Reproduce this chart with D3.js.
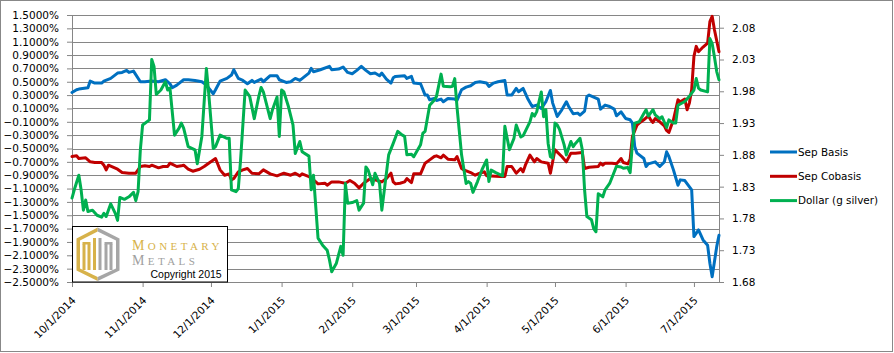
<!DOCTYPE html>
<html>
<head>
<meta charset="utf-8">
<script src="https://cdn.jsdelivr.net/npm/d3@7"></script>
<style>
  body { margin: 0; background: #fff; }
  svg text { font-family: "DejaVu Sans", sans-serif; }
</style>
</head>
<body>
<div id="chart"></div>
<script>
// DATA
const seriesNames = ["Sep Basis", "Sep Cobasis", "Dollar (g silver)"]

const basisDates = ["10/1/14","10/3/14","10/4/14","10/8/14","10/9/14","10/11/14","10/14/14","10/15/14","10/18/14","10/21/14","10/23/14","10/25/14","10/26/14","10/28/14","10/31/14","11/2/14","11/5/14","11/8/14","11/11/14","11/13/14","11/14/14","11/16/14","11/19/14","11/21/14","11/24/14","11/27/14","11/29/14","12/2/14","12/3/14","12/5/14","12/8/14","12/10/14","12/11/14","12/13/14","12/15/14","12/17/14","12/19/14","12/20/14","12/23/14","12/24/14","12/27/14","12/30/14","12/31/14","1/3/15","1/5/15","1/7/15","1/9/15","1/13/15","1/14/15","1/15/15","1/18/15","1/22/15","1/23/15","1/26/15","1/28/15","1/30/15","2/1/15","2/3/15","2/5/15","2/7/15","2/9/15","2/11/15","2/13/15","2/14/15","2/16/15","2/18/15","2/19/15","2/20/15","2/24/15","2/25/15","2/27/15","2/28/15","3/3/15","3/5/15","3/6/15","3/7/15","3/9/15","3/10/15","3/12/15","3/13/15","3/15/15","3/18/15","3/19/15","3/21/15","3/23/15","3/25/15","3/27/15","3/29/15","4/1/15","4/2/15","4/4/15","4/6/15","4/9/15","4/10/15","4/12/15","4/14/15","4/15/15","4/17/15","4/19/15","4/21/15","4/23/15","4/25/15","4/26/15","4/27/15","4/29/15","4/30/15","5/1/15","5/2/15","5/4/15","5/6/15","5/7/15","5/9/15","5/11/15","5/12/15","5/14/15","5/15/15","5/16/15","5/18/15","5/20/15","5/21/15","5/23/15","5/25/15","5/27/15","5/28/15","5/30/15","6/1/15","6/3/15","6/4/15","6/5/15","6/6/15","6/9/15","6/10/15","6/11/15","6/14/15","6/16/15","6/18/15","6/19/15","6/20/15","6/22/15","6/24/15","6/25/15","6/27/15","6/30/15","7/1/15","7/3/15","7/5/15","7/7/15","7/8/15","7/9/15","7/11/15","7/12/15"]
const basisValues = [0.34,0.38,0.39,0.41,0.51,0.48,0.48,0.51,0.55,0.63,0.64,0.67,0.64,0.66,0.50,0.50,0.51,0.50,0.53,0.47,0.41,0.45,0.53,0.53,0.52,0.50,0.45,0.32,0.38,0.51,0.55,0.60,0.68,0.55,0.52,0.47,0.52,0.49,0.54,0.50,0.59,0.59,0.53,0.49,0.50,0.55,0.52,0.63,0.70,0.65,0.68,0.73,0.68,0.69,0.72,0.64,0.62,0.67,0.73,0.67,0.62,0.63,0.59,0.63,0.54,0.48,0.56,0.58,0.59,0.55,0.58,0.48,0.47,0.30,0.30,0.23,0.25,0.22,0.24,0.20,0.25,0.24,0.22,0.38,0.42,0.44,0.49,0.50,0.48,0.43,0.48,0.50,0.52,0.30,0.30,0.40,0.35,0.40,0.25,0.13,0.15,0.10,0.15,0.20,0.37,0.18,0.08,-0.02,0.08,0.20,0.13,0.02,0.03,0.00,0.06,0.28,0.30,0.27,0.24,0.09,0.15,0.13,0.09,-0.01,0.05,-0.05,-0.07,-0.12,-0.47,-0.57,-0.65,-0.77,-0.73,-0.70,-0.77,-0.70,-0.55,-0.62,-0.82,-1.05,-0.97,-0.98,-1.12,-1.82,-1.72,-1.87,-1.95,-2.22,-2.42,-1.97,-1.80]

const cobasisDates = ["10/1/14","10/3/14","10/4/14","10/7/14","10/9/14","10/11/14","10/14/14","10/15/14","10/16/14","10/17/14","10/19/14","10/21/14","10/23/14","10/26/14","10/29/14","10/31/14","11/2/14","11/4/14","11/5/14","11/8/14","11/10/14","11/12/14","11/13/14","11/16/14","11/18/14","11/19/14","11/21/14","11/23/14","11/26/14","11/28/14","11/30/14","12/3/14","12/5/14","12/7/14","12/9/14","12/10/14","12/11/14","12/13/14","12/15/14","12/17/14","12/19/14","12/22/14","12/24/14","12/27/14","12/30/14","1/2/15","1/5/15","1/7/15","1/9/15","1/10/15","1/13/15","1/15/15","1/17/15","1/20/15","1/21/15","1/23/15","1/26/15","1/29/15","1/31/15","2/2/15","2/4/15","2/6/15","2/9/15","2/11/15","2/14/15","2/16/15","2/18/15","2/19/15","2/20/15","2/22/15","2/24/15","2/25/15","2/27/15","2/28/15","3/3/15","3/5/15","3/7/15","3/9/15","3/10/15","3/12/15","3/13/15","3/15/15","3/18/15","3/19/15","3/21/15","3/22/15","3/25/15","3/27/15","3/29/15","3/31/15","4/1/15","4/7/15","4/9/15","4/10/15","4/12/15","4/14/15","4/16/15","4/17/15","4/18/15","4/20/15","4/22/15","4/23/15","4/25/15","4/28/15","4/29/15","5/1/15","5/4/15","5/6/15","5/8/15","5/10/15","5/13/15","5/14/15","5/16/15","5/20/15","5/21/15","5/22/15","5/23/15","5/26/15","5/28/15","5/30/15","5/31/15","6/2/15","6/3/15","6/4/15","6/6/15","6/7/15","6/9/15","6/11/15","6/12/15","6/13/15","6/14/15","6/16/15","6/18/15","6/19/15","6/20/15","6/22/15","6/24/15","6/25/15","6/27/15","6/28/15","6/29/15","6/30/15","7/1/15","7/2/15","7/3/15","7/5/15","7/7/15","7/8/15","7/9/15","7/10/15","7/12/15"]
const cobasisValues = [-0.62,-0.61,-0.65,-0.64,-0.70,-0.71,-0.71,-0.75,-0.82,-0.75,-0.78,-0.81,-0.86,-0.87,-0.87,-0.77,-0.76,-0.77,-0.75,-0.79,-0.77,-0.77,-0.72,-0.77,-0.76,-0.75,-0.81,-0.84,-0.81,-0.77,-0.72,-0.65,-0.82,-0.90,-0.88,-0.97,-0.95,-0.85,-0.82,-0.80,-0.87,-0.88,-0.82,-0.88,-0.91,-0.87,-0.90,-0.87,-0.91,-0.88,-0.92,-0.97,-1.03,-1.02,-1.05,-1.00,-1.00,-1.02,-0.98,-1.02,-1.09,-1.02,-0.95,-0.97,-1.00,-0.95,-0.87,-1.00,-1.03,-1.02,-1.00,-0.95,-1.01,-0.88,-0.88,-0.72,-0.67,-0.62,-0.61,-0.64,-0.60,-0.66,-0.67,-0.62,-0.80,-0.82,-0.86,-0.90,-0.87,-0.85,-0.91,-0.92,-0.92,-0.77,-0.77,-0.87,-0.80,-0.85,-0.75,-0.60,-0.70,-0.65,-0.70,-0.72,-0.87,-0.52,-0.62,-0.70,-0.57,-0.57,-0.56,-0.80,-0.78,-0.77,-0.72,-0.75,-0.72,-0.72,-0.73,-0.65,-0.71,-0.73,-0.66,-0.32,-0.15,-0.12,-0.07,-0.01,-0.07,-0.11,-0.05,-0.10,-0.16,-0.23,-0.26,-0.07,0.23,0.20,0.24,0.08,0.18,0.38,0.88,1.03,0.95,1.02,1.08,1.40,1.48,1.28,0.95]

const dollarDates = ["10/1/14","10/2/14","10/4/14","10/5/14","10/6/14","10/7/14","10/8/14","10/10/14","10/12/14","10/14/14","10/15/14","10/16/14","10/18/14","10/20/14","10/21/14","10/22/14","10/24/14","10/26/14","10/28/14","10/29/14","10/30/14","10/31/14","11/1/14","11/4/14","11/5/14","11/6/14","11/7/14","11/9/14","11/11/14","11/12/14","11/13/14","11/15/14","11/17/14","11/18/14","11/19/14","11/21/14","11/24/14","11/25/14","11/27/14","11/29/14","11/30/14","12/2/14","12/3/14","12/5/14","12/8/14","12/9/14","12/10/14","12/12/14","12/13/14","12/14/14","12/16/14","12/18/14","12/20/14","12/22/14","12/23/14","12/24/14","12/27/14","12/28/14","12/30/14","12/31/14","1/1/15","1/2/15","1/4/15","1/6/15","1/7/15","1/9/15","1/10/15","1/13/15","1/14/15","1/15/15","1/17/15","1/19/15","1/21/15","1/22/15","1/23/15","1/25/15","1/27/15","1/28/15","1/29/15","1/30/15","2/1/15","2/3/15","2/4/15","2/6/15","2/7/15","2/8/15","2/10/15","2/11/15","2/13/15","2/14/15","2/15/15","2/17/15","2/19/15","2/21/15","2/23/15","2/24/15","2/25/15","2/27/15","2/28/15","3/3/15","3/4/15","3/5/15","3/7/15","3/9/15","3/10/15","3/12/15","3/13/15","3/16/15","3/17/15","3/18/15","3/19/15","3/21/15","3/23/15","3/24/15","3/25/15","3/26/15","3/28/15","3/30/15","4/1/15","4/2/15","4/3/15","4/5/15","4/8/15","4/9/15","4/11/15","4/13/15","4/14/15","4/16/15","4/17/15","4/20/15","4/21/15","4/22/15","4/23/15","4/24/15","4/25/15","4/26/15","4/27/15","4/28/15","4/29/15","4/30/15","5/1/15","5/2/15","5/3/15","5/5/15","5/6/15","5/8/15","5/9/15","5/10/15","5/12/15","5/13/15","5/14/15","5/15/15","5/17/15","5/18/15","5/19/15","5/20/15","5/22/15","5/23/15","5/25/15","5/28/15","5/30/15","5/31/15","6/2/15","6/3/15","6/4/15","6/5/15","6/7/15","6/9/15","6/10/15","6/11/15","6/13/15","6/14/15","6/16/15","6/17/15","6/19/15","6/20/15","6/22/15","6/23/15","6/24/15","6/25/15","6/27/15","6/29/15","6/30/15","7/1/15","7/2/15","7/3/15","7/4/15","7/7/15","7/8/15","7/9/15","7/10/15","7/11/15","7/12/15"]
const dollarValues = [1.812,1.825,1.848,1.825,1.793,1.809,1.791,1.793,1.785,1.782,1.788,1.783,1.803,1.788,1.777,1.813,1.810,1.814,1.821,1.808,1.822,1.888,1.927,1.935,2.030,2.019,1.975,1.982,1.995,1.982,1.985,1.911,1.922,1.930,1.922,1.893,1.888,1.866,1.909,2.016,1.977,1.890,1.893,1.911,1.906,1.906,1.825,1.822,1.827,1.872,1.982,1.972,1.937,1.972,1.986,1.979,1.937,1.951,1.971,1.909,1.982,1.979,1.956,1.927,1.882,1.901,1.885,1.878,1.825,1.848,1.749,1.738,1.730,1.715,1.696,1.709,1.736,1.722,1.835,1.804,1.805,1.808,1.793,1.804,1.861,1.856,1.833,1.851,1.835,1.793,1.822,1.880,1.898,1.917,1.911,1.909,1.880,1.881,1.877,1.896,1.914,1.917,1.958,1.966,1.972,2.007,1.988,1.987,1.988,2.000,1.955,1.880,1.835,1.838,1.835,1.821,1.838,1.857,1.872,1.838,1.856,1.852,1.847,1.925,1.888,1.906,1.927,1.908,1.910,1.932,1.945,1.941,1.948,1.964,1.979,1.940,1.951,1.898,1.877,1.875,1.930,1.927,1.920,1.896,1.880,1.901,1.893,1.898,1.906,1.888,1.825,1.783,1.778,1.764,1.759,1.819,1.814,1.825,1.835,1.862,1.861,1.859,1.860,1.852,1.898,1.930,1.932,1.945,1.951,1.941,1.951,1.943,1.937,1.940,1.923,1.935,1.930,1.930,1.958,1.960,1.964,1.972,1.977,1.982,2.000,1.985,1.982,1.979,2.063,2.055,2.034,2.011,1.998]

const leftTicks = [-2.5,-2.3,-2.1,-1.9,-1.7,-1.5,-1.3,-1.1,-0.9,-0.7,-0.5,-0.3,-0.1,0.1,0.3,0.5,0.7,0.9,1.1,1.3,1.5]
const rightTicks = [1.68,1.73,1.78,1.83,1.88,1.93,1.98,2.03,2.08]
const monthTicks = ["10/1/14","11/1/14","12/1/14","1/1/15","2/1/15","3/1/15","4/1/15","5/1/15","6/1/15","7/1/15"]
const dateDomain = ["10/1/14","7/12/15"]

const drawChart = () => {
  const parseDate = d3.timeParse("%m/%d/%y")
  const toPoints = (dates, values) => dates.map((d, i) => ({ date: parseDate(d), value: values[i] }))

  const series = [
    { name: seriesNames[0], color: "#0070c0", axis: "left", points: toPoints(basisDates, basisValues) },
    { name: seriesNames[1], color: "#c00000", axis: "left", points: toPoints(cobasisDates, cobasisValues) },
    { name: seriesNames[2], color: "#00b050", axis: "right", points: toPoints(dollarDates, dollarValues) },
  ]

  // DIMENSIONS
  let dimensions = {
    width: 894,
    height: 353,
    margin: { top: 15, right: 175, bottom: 71, left: 72 },
  }
  dimensions.boundedWidth = dimensions.width - dimensions.margin.left - dimensions.margin.right
  dimensions.boundedHeight = dimensions.height - dimensions.margin.top - dimensions.margin.bottom

  const wrapper = d3.select("#chart")
    .append("svg")
    .attr("width", dimensions.width)
    .attr("height", dimensions.height)

  // chart border
  wrapper.append("rect")
    .attr("x", 0.5)
    .attr("y", 0.5)
    .attr("width", 892)
    .attr("height", 351)
    .attr("fill", "#fff")
    .attr("stroke", "#888")

  const bounds = wrapper.append("g")
    .attr("transform", `translate(${dimensions.margin.left},${dimensions.margin.top})`)

  // SCALES
  const xScale = d3.scaleTime()
    .domain(dateDomain.map(parseDate))
    .range([0, dimensions.boundedWidth])
  const yScale = d3.scaleLinear()
    .domain([-2.5, 1.5])
    .range([dimensions.boundedHeight, 0])
  const y2Scale = d3.scaleLinear()
    .domain([1.68, 2.10])
    .range([dimensions.boundedHeight, 0])

  // GRIDLINES
  bounds.append("g")
    .selectAll("line")
    .data(leftTicks)
    .join("line")
      .attr("x1", 0)
      .attr("x2", dimensions.boundedWidth)
      .attr("y1", d => Math.round(yScale(d)) + 0.5)
      .attr("y2", d => Math.round(yScale(d)) + 0.5)
      .attr("stroke", "#868686")

  // AXES
  const styleAxis = g => {
    g.selectAll("path, line").attr("stroke", "#868686")
    g.selectAll("text")
      .attr("fill", "#000")
      .style("font-size", "10.5px")
      .style("font-family", "'DejaVu Sans', sans-serif")
  }

  bounds.append("g")
    .call(d3.axisLeft(yScale)
      .tickValues(leftTicks)
      .tickFormat(d => d3.format(".4f")(d) + "%")
      .tickSize(5)
      .tickSizeOuter(0)
      .tickPadding(8))
    .call(styleAxis)

  bounds.append("g")
    .attr("transform", `translate(${dimensions.boundedWidth},0)`)
    .call(d3.axisRight(y2Scale)
      .tickValues(rightTicks)
      .tickFormat(d3.format(".2f"))
      .tickSize(5)
      .tickSizeOuter(0)
      .tickPadding(8))
    .call(styleAxis)

  bounds.append("g")
    .attr("transform", `translate(0,${dimensions.boundedHeight})`)
    .call(d3.axisBottom(xScale)
      .tickValues(monthTicks.map(parseDate))
      .tickFormat(d3.timeFormat("%-m/%-d/%Y"))
      .tickSize(5)
      .tickSizeOuter(0))
    .call(styleAxis)
    .selectAll("text")
      .attr("x", 0)
      .attr("y", 0)
      .attr("dy", 0)
      .attr("text-anchor", "end")
      .attr("transform", "translate(4,19) rotate(-45)")

  // LINES
  const lineGroup = bounds.append("g")
  series.forEach(s => {
    const scale = s.axis === "left" ? yScale : y2Scale
    const lineGenerator = d3.line()
      .x(d => xScale(d.date))
      .y(d => scale(d.value))
    lineGroup.append("path")
      .datum(s.points)
      .attr("d", lineGenerator)
      .attr("fill", "none")
      .attr("stroke", s.color)
      .attr("stroke-width", 3)
      .attr("stroke-linejoin", "round")
      .attr("stroke-linecap", "round")
  })

  // LEGEND
  const legend = wrapper.append("g")
    .attr("transform", "translate(770,152)")
  const legendItems = legend.selectAll("g")
    .data(series)
    .join("g")
      .attr("transform", (d, i) => `translate(0,${i * 24.3})`)
  legendItems.append("line")
    .attr("x1", 0)
    .attr("x2", 27)
    .attr("stroke", d => d.color)
    .attr("stroke-width", 3)
  legendItems.append("text")
    .attr("x", 28)
    .attr("dy", "0.35em")
    .style("font-size", "10.4px")
    .text(d => d.name)

  // LOGO
  const logo = wrapper.append("g")
  logo.append("rect")
    .attr("x", 72.5)
    .attr("y", 226.5)
    .attr("width", 155)
    .attr("height", 55.5)
    .attr("fill", "#fff")
    .attr("stroke", "#000")
  const gold = "#d7b24a"
  const grey = "#a6a6a6"
  logo.append("path")
    .attr("d", "M97.7,227.5 L76.5,238.5 L76.5,270.5 L97.7,281 Z")
    .attr("fill", gold)
  logo.append("path")
    .attr("d", "M97.7,227.5 L119.5,238.5 L119.5,270.5 L97.7,281 Z")
    .attr("fill", grey)
  logo.append("path")
    .attr("d", "M97.7,231.5 L80,240.5 L80,268.5 L97.7,277 L116,268.5 L116,240.5 Z")
    .attr("fill", "#fff")
  const bars = [
    { x: 82.5, y: 244, c: gold }, { x: 87.5, y: 244, c: gold }, { x: 93, y: 238, c: gold },
    { x: 98.5, y: 238, c: grey }, { x: 104.5, y: 244, c: grey }, { x: 109.5, y: 244, c: grey },
  ]
  logo.selectAll(".bar")
    .data(bars)
    .join("rect")
      .attr("class", "bar")
      .attr("x", d => d.x)
      .attr("y", d => d.y)
      .attr("width", 3)
      .attr("height", d => 270 - d.y)
      .attr("fill", d => d.c)
  logo.append("rect").attr("x", 82.5).attr("y", 242).attr("width", 8).attr("height", 2.5).attr("fill", gold)
  logo.append("rect").attr("x", 104.5).attr("y", 242).attr("width", 8).attr("height", 2.5).attr("fill", grey)

  const word = (y, big, rest, color) => {
    const t = logo.append("text")
      .attr("x", 132)
      .attr("y", y)
      .attr("fill", color)
      .style("font-family", "'Liberation Serif', serif")
      .style("letter-spacing", "3.4px")
    t.append("tspan").style("font-size", "14px").text(big)
    t.append("tspan").style("font-size", "11px").text(rest)
  }
  word(249.5, "M", "ONETARY", gold)
  word(264.5, "M", "ETALS", "#a0a0a0")
  logo.append("text")
    .attr("x", 150.5)
    .attr("y", 277.5)
    .style("font-family", "'Liberation Sans', sans-serif")
    .style("font-size", "10.5px")
    .text("Copyright 2015")
}

drawChart()
</script>
</body>
</html>
